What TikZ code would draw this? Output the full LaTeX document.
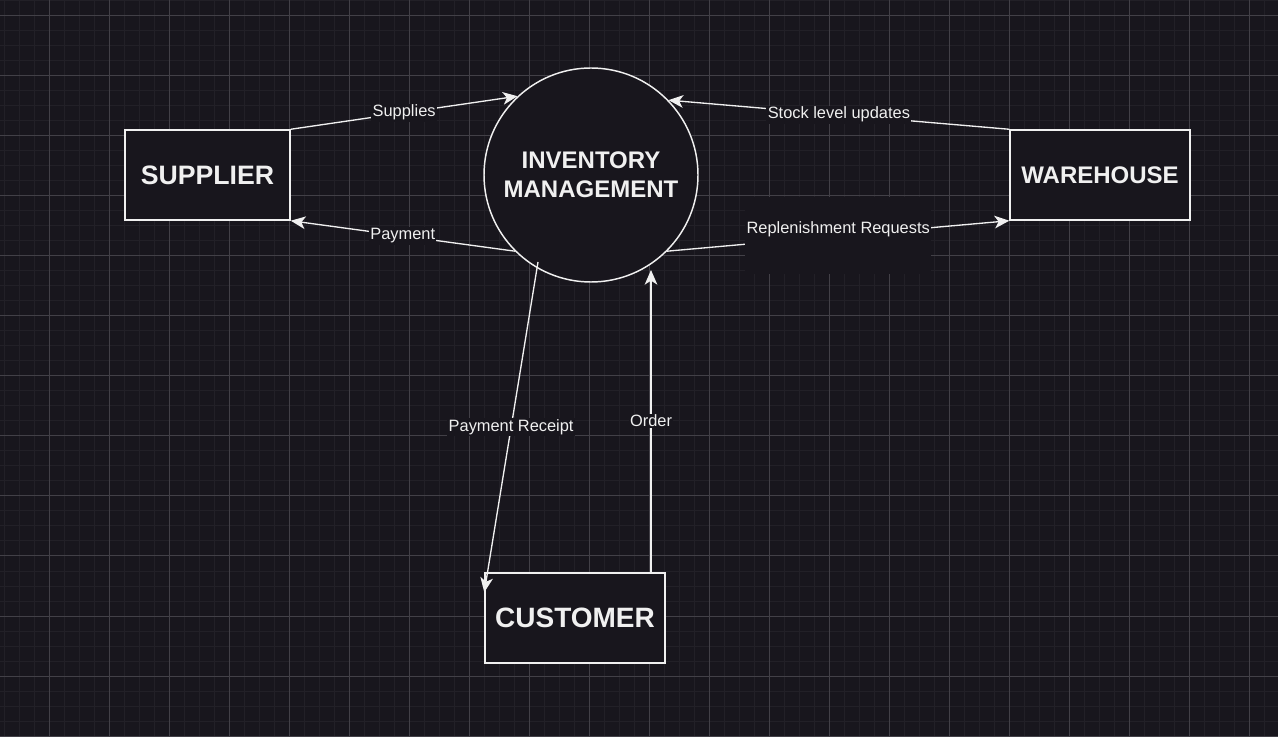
\documentclass[tikz,border=0pt]{standalone}
\usepackage{fontspec}
\setmainfont{Liberation Sans}
\usetikzlibrary{arrows.meta,calc}
\definecolor{bg}{RGB}{24,22,29}
\definecolor{gridminor}{RGB}{34,32,39}
\definecolor{gridmajor}{RGB}{66,64,71}
\definecolor{ink}{RGB}{240,240,240}
\tikzset{
 entity/.style={draw=ink,fill=bg,line width=1.1pt,inner sep=0pt,text=ink},
 flow/.style={draw=ink,line width=1pt,-{Stealth[length=11pt,width=9.5pt,inset=3pt]}},
 tag/.style={fill=bg,text=ink,font=\fontsize{12.3}{14}\selectfont,inner sep=1pt}
}

\begin{document}
\begin{tikzpicture}[x=0.75pt,y=-0.75pt]
 \useasboundingbox (0,0) rectangle (1278,737);
 \fill[bg] (0,0) rectangle (1278,737);
 \foreach \x in {4,19,...,1278} \draw[gridminor,line width=0.75pt] (\x,0) -- (\x,737);
 \foreach \y in {1,16,...,737} \draw[gridminor,line width=0.75pt] (0,\y) -- (1278,\y);
 \foreach \x in {49,109,...,1278} \draw[gridmajor,line width=0.75pt] (\x,0) -- (\x,737);
 \foreach \y in {16,76,...,737} \draw[gridmajor,line width=0.75pt] (0,\y) -- (1278,\y);
 \node[entity,minimum width=123.75pt,minimum height=67.5pt,
   font=\bfseries\fontsize{20}{24}\selectfont] (sup) at (207.5,175) {SUPPLIER};
 \node[entity,circle,minimum size=160.5pt,align=center,
   font=\bfseries\fontsize{18}{21.75}\selectfont] (inv) at (591,175) {INVENTORY\\MANAGEMENT};
 \node[entity,minimum width=135pt,minimum height=67.5pt,
   font=\bfseries\fontsize{18}{22}\selectfont] (wh) at (1100,175) {WAREHOUSE};
 \node[entity,minimum width=135pt,minimum height=67.5pt,
   font=\bfseries\fontsize{21}{25}\selectfont] (cust) at (575,618) {CUSTOMER};
 \coordinate (rcpt) at ($(inv)+(-53,87)$);
 \coordinate (rcpttip) at ($(cust.north west)+(0,20)$);
 \coordinate (ordtip) at (651,270);
 \coordinate (ordfoot) at (cust.north -| ordtip);
 \draw[flow] (sup.north east) -- node[tag]{Supplies} (inv.133);
 \draw[flow] (inv.225) -- node[tag]{Payment} (sup.south east);
 \draw[flow] (wh.north west) -- node[tag]{Stock level updates} (inv.44);
 \draw[flow] (inv.-45) -- node[tag,minimum width=138pt,minimum height=57.75pt,
   text height=8.6pt,text depth=12.8pt]{Replenishment Requests} (wh.south west);
 \draw[flow] (rcpt) -- node[tag]{Payment Receipt} (rcpttip);
 \draw[flow] (ordfoot) -- node[tag]{Order} (ordtip);
\end{tikzpicture}
\end{document}
